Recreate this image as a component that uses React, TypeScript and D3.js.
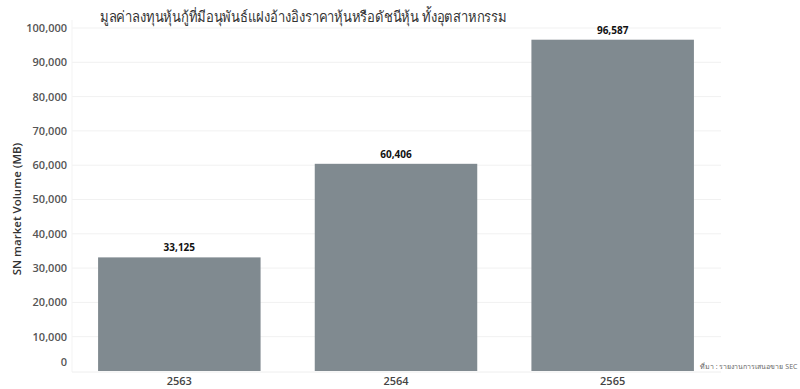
import React from "react";
import * as d3 from "d3";

const title = "มูลค่าลงทุนหุ้นกู้ที่มีอนุพันธ์แฝงอ้างอิงราคาหุ้นหรือดัชนีหุ้น ทั้งอุตสาหกรรม";
const yAxisTitle = "SN market Volume (MB)";
const sourceNote = "ที่มา : รายงานการเสนอขาย SEC";
const years = ["2563", "2564", "2565"];
const volumes = [33125, 60406, 96587];
const yTicks = [0, 10000, 20000, 30000, 40000, 50000, 60000, 70000, 80000, 90000, 100000];

const W = 800;
const H = 389;
const font = "'Open Sans', 'Noto Sans', sans-serif";

export default function App() {
  const x = d3.scaleBand<string>().domain(years).range([71, 721]).paddingInner(0.25).paddingOuter(0.125);
  const y = d3.scaleLinear().domain([0, 100000]).range([371, 28]);
  const fmt = d3.format(",");

  return (
    <svg width={W} height={H} style={{ position: "absolute", left: 0, top: 0, background: "#fff" }}>
      <text
        x={100}
        y={22}
        fontFamily={font}
        fontSize={15}
        fill="#333"
        textLength={407}
        lengthAdjust="spacingAndGlyphs"
      >
        {title}
      </text>

      {yTicks.map((t) => (
        <g key={t}>
          {t > 0 && (
            <line x1={72} x2={721} y1={y(t)} y2={y(t)} stroke="#f1f1f1" strokeWidth={1} />
          )}
          <text
            x={67}
            y={t === 0 ? y(t) - 8 : y(t) + 1}
            textAnchor="end"
            dominantBaseline="middle"
            fontFamily={font}
            fontSize={11}
            fontWeight={600}
            fill="#555"
          >
            {fmt(t)}
          </text>
        </g>
      ))}
      <line x1={72} x2={72} y1={20} y2={372} stroke="#f3f3f3" />
      <line x1={72} x2={721} y1={372} y2={372} stroke="#eeeeee" />

      <text
        transform={`translate(18,209) rotate(-90)`}
        textAnchor="middle"
        dominantBaseline="middle"
        fontFamily={font}
        fontSize={11.5}
        fontWeight={600}
        fill="#333"
      >
        {yAxisTitle}
      </text>

      {years.map((yr, i) => {
        const bx = x(yr) as number;
        const bw = x.bandwidth();
        const v = volumes[i];
        return (
          <g key={yr}>
            <rect x={bx} y={y(v)} width={bw} height={y(0) - y(v)} fill="#808a90" />
            <text
              x={bx + bw / 2}
              y={y(v) - 6}
              textAnchor="middle"
              fontFamily={font}
              fontSize={10}
              fontWeight="bold"
              fill="#111"
            >
              {fmt(v)}
            </text>
            <text
              x={bx + bw / 2}
              y={385}
              textAnchor="middle"
              fontFamily={font}
              fontSize={11}
              fontWeight={600}
              fill="#444"
            >
              {yr}
            </text>
          </g>
        );
      })}

      <text x={700} y={369} fontFamily={font} fontSize={7} fill="#666">{sourceNote}</text>
    </svg>
  );
}
